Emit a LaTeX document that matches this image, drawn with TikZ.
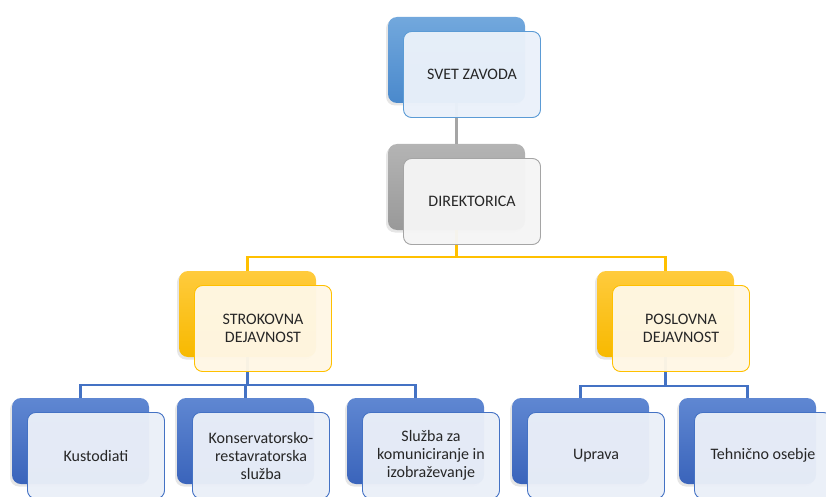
\documentclass[tikz,border=0pt]{standalone}
\usepackage{fontspec}
\setmainfont{Carlito}
\usetikzlibrary{shadows}
\definecolor{svetA}{HTML}{72A8DD}
\definecolor{svetB}{HTML}{4A89CC}
\definecolor{svetL}{HTML}{5B9BD5}
\definecolor{svetF}{HTML}{EAF1FA}
\definecolor{grayA}{HTML}{B4B4B4}
\definecolor{grayB}{HTML}{999999}
\definecolor{grayL}{HTML}{A5A5A5}
\definecolor{grayF}{HTML}{F5F5F5}
\definecolor{yelA}{HTML}{FFCB3D}
\definecolor{yelB}{HTML}{F7B900}
\definecolor{yelL}{HTML}{FFC000}
\definecolor{yelF}{HTML}{FFF7E5}
\definecolor{bluA}{HTML}{5F87D2}
\definecolor{bluB}{HTML}{3A64BB}
\definecolor{bluL}{HTML}{4472C4}
\definecolor{bluF}{HTML}{EAEFF8}
\tikzset{
  back/.style={rectangle, rounded corners=9pt, minimum width=137pt, minimum height=86pt,
    inner sep=0pt, draw=none,
    drop shadow={shadow xshift=-2pt, shadow yshift=-2.5pt, opacity=0.2}},
  front/.style={rectangle, rounded corners=8pt, minimum width=137pt, minimum height=86pt,
    inner sep=2pt, align=center, line width=0.9pt, fill opacity=0.965, text opacity=1,
    font=\fontsize{16}{18}\selectfont, text=black!85},
  svetback/.style={back, top color=svetA, bottom color=svetB},
  svetfront/.style={front, draw=svetL, fill=svetF},
  grayback/.style={back, top color=grayA, bottom color=grayB},
  grayfront/.style={front, draw=grayL, fill=grayF},
  yelback/.style={back, top color=yelA, bottom color=yelB},
  yelfront/.style={front, draw=yelL, fill=yelF},
  bluback/.style={back, top color=bluA, bottom color=bluB},
  blufront/.style={front, draw=bluL, fill=bluF},
  conn/.style={line width=2.3pt},
}
\newcommand\orgback[4]{%
  \node[#4] (#1b) at (#2+68.5, #3+43) {};
}
\newcommand\orgfront[5]{%
  \node[#4] (#1) at (#2+84, #3+57.5) {#5};
}
\begin{document}
\begin{tikzpicture}[x=1pt, y=-1pt]
\useasboundingbox (0,0) rectangle (826,497);
% back boxes
\orgback{svet}{388}{17}{svetback}
\orgback{dir}{388}{144}{grayback}
\orgback{str}{179}{271}{yelback}
\orgback{pos}{597}{271}{yelback}
\orgback{kus}{12}{398}{bluback}
\orgback{kon}{177}{398}{bluback}
\orgback{slu}{347}{398}{bluback}
\orgback{upr}{512}{398}{bluback}
\orgback{teh}{679}{398}{bluback}
% connectors
\draw[conn, grayL] (svetb.south) -- (dirb.north);
\draw[conn, yelL] (dirb.south) -- ++(0,27) coordinate (yj);
\draw[conn, yelL] (strb.north) |- (yj) -| (posb.north);
\draw[conn, bluL] (strb.south) -- ++(0,28) coordinate (lj);
\draw[conn, bluL] (kusb.north) |- (lj) -| (slub.north);
\draw[conn, bluL] (konb.north) -- (konb.north |- lj);
\draw[conn, bluL] (posb.south) -- ++(0,29) coordinate (rj);
\draw[conn, bluL] (uprb.north) |- (rj) -| (tehb.north);
% front boxes
\orgfront{svet}{388}{17}{svetfront}{SVET ZAVODA}
\orgfront{dir}{388}{144}{grayfront}{DIREKTORICA}
\orgfront{str}{179}{271}{yelfront}{STROKOVNA\\DEJAVNOST}
\orgfront{pos}{597}{271}{yelfront}{POSLOVNA\\DEJAVNOST}
\orgfront{kus}{12}{398}{blufront}{Kustodiati}
\orgfront{kon}{177}{398}{blufront}{Konservatorsko-\\restavratorska\\služba}
\orgfront{slu}{347}{398}{blufront}{Služba za\\komuniciranje in\\izobraževanje}
\orgfront{upr}{512}{398}{blufront}{Uprava}
\orgfront{teh}{679}{398}{blufront}{Tehnično osebje}
\end{tikzpicture}
\end{document}
